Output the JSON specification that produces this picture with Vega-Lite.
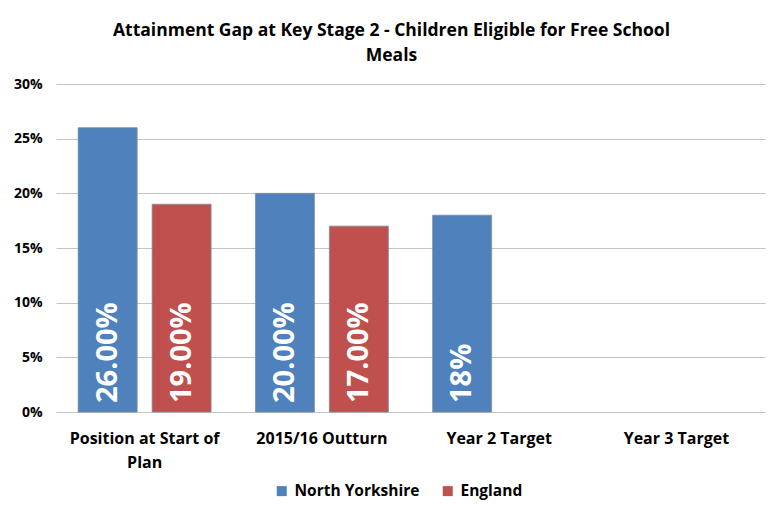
{
  "$schema": "https://vega.github.io/schema/vega-lite/v6.json",
  "width": 709,
  "height": 328,
  "autosize": {"type": "none"},
  "padding": {"left": 56, "top": 84, "right": 4, "bottom": 97},
  "background": "white",
  "title": {
    "text": ["Attainment Gap at Key Stage 2 - Children Eligible for Free School", "Meals"],
    "font": "Open Sans",
    "fontSize": 17.5,
    "fontWeight": "bold",
    "color": "#000000",
    "lineHeight": 25,
    "anchor": "middle",
    "dx": -19,
    "offset": 13
  },
  "data": {
    "values": [
      {"category": "Position at Start of Plan", "series": "North Yorkshire", "value": 0.26, "label": "26.00%"},
      {"category": "Position at Start of Plan", "series": "England", "value": 0.19, "label": "19.00%"},
      {"category": "2015/16 Outturn", "series": "North Yorkshire", "value": 0.20, "label": "20.00%"},
      {"category": "2015/16 Outturn", "series": "England", "value": 0.17, "label": "17.00%"},
      {"category": "Year 2 Target", "series": "North Yorkshire", "value": 0.18, "label": "18%"}
    ]
  },
  "encoding": {
    "x": {
      "field": "category",
      "type": "nominal",
      "scale": {
        "domain": ["Position at Start of Plan", "2015/16 Outturn", "Year 2 Target", "Year 3 Target"],
        "paddingInner": 0.25,
        "paddingOuter": 0.125
      },
      "axis": {
        "title": null,
        "labelAngle": 0,
        "labelExpr": "datum.value == 'Position at Start of Plan' ? ['Position at Start of', 'Plan'] : datum.value",
        "labelLineHeight": 24,
        "labelFontSize": 16,
        "labelPadding": 18,
        "ticks": false,
        "tickSize": 0,
        "domain": false,
        "grid": false
      }
    },
    "xOffset": {
      "field": "series",
      "type": "nominal",
      "scale": {"domain": ["North Yorkshire", "England"], "paddingInner": 0.2027, "paddingOuter": 0}
    },
    "y": {
      "field": "value",
      "type": "quantitative",
      "scale": {"domain": [0, 0.3], "nice": false},
      "axis": {
        "title": null,
        "format": ".0%",
        "values": [0, 0.05, 0.1, 0.15, 0.2, 0.25, 0.3],
        "labelFontSize": 14,
        "labelPadding": 14,
        "ticks": false,
        "tickSize": 0,
        "domain": false,
        "grid": true,
        "gridColor": "#c4c4c4",
        "gridWidth": 1
      }
    }
  },
  "layer": [
    {
      "mark": {"type": "bar", "stroke": "#7f8c99", "strokeWidth": 0.8},
      "encoding": {
        "color": {
          "field": "series",
          "type": "nominal",
          "scale": {"domain": ["North Yorkshire", "England"], "range": ["#4F81BD", "#C0504D"]},
          "legend": {
            "title": null,
            "orient": "none",
            "legendX": 218,
            "legendY": 399,
            "direction": "horizontal",
            "symbolType": "square",
            "symbolSize": 100,
            "symbolStrokeWidth": 0,
            "labelFontSize": 15.5,
            "labelOffset": 5,
            "columnPadding": 20
          }
        }
      }
    },
    {
      "mark": {
        "type": "text",
        "angle": 270,
        "align": "left",
        "baseline": "middle",
        "dx": 9,
        "font": "Open Sans",
        "fontSize": 29,
        "fontWeight": "bold",
        "color": "#ffffff"
      },
      "encoding": {
        "y": {"datum": 0},
        "text": {"field": "label"}
      }
    }
  ],
  "config": {
    "view": {"stroke": null},
    "font": "Open Sans",
    "axis": {
      "labelFont": "Open Sans",
      "labelFontWeight": "bold",
      "labelColor": "#000000"
    },
    "legend": {
      "labelFont": "Open Sans",
      "labelFontWeight": "bold",
      "labelColor": "#000000"
    }
  }
}
